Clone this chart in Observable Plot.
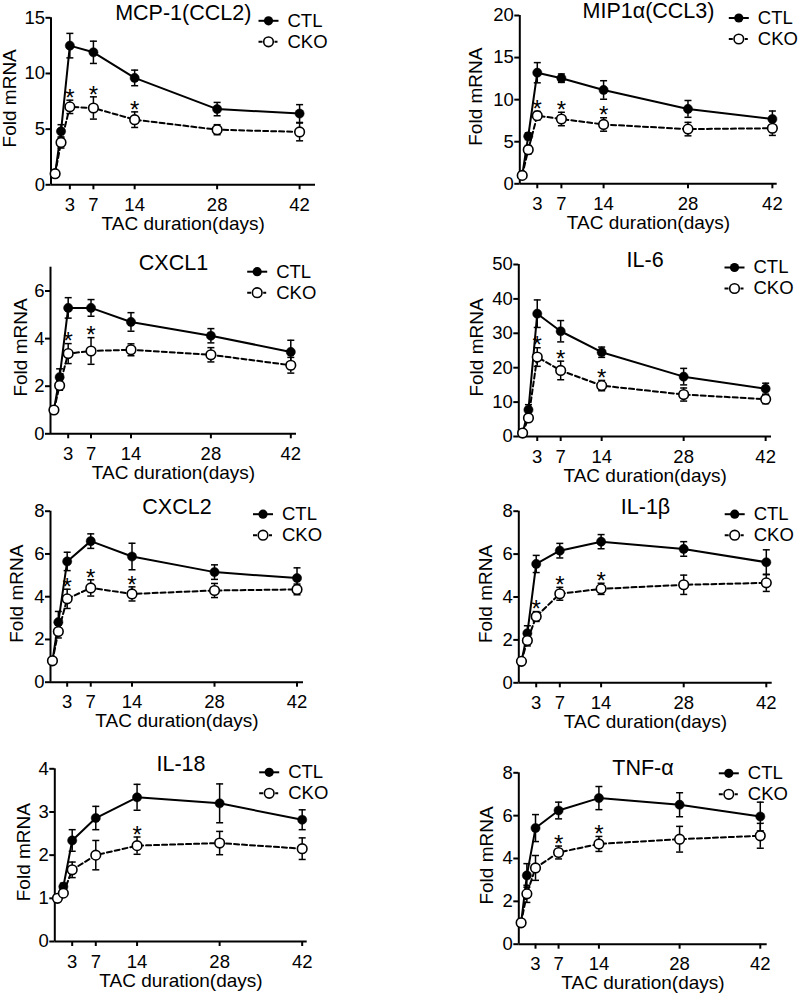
<!DOCTYPE html>
<html><head><meta charset="utf-8">
<script src="https://cdn.jsdelivr.net/npm/d3@7"></script>
<script src="https://cdn.jsdelivr.net/npm/@observablehq/plot@0.6"></script>
<style>
html,body{margin:0;padding:0;background:#fff;}
#chart{position:relative;width:800px;height:995px;overflow:hidden;font-family:"Liberation Sans",Arial,sans-serif;background:#fff;}
.panel{position:absolute;}
</style></head><body><div id="chart"></div>
<script>
// plotted time positions (baseline, day 1, then 3..42 days)
const timePoints = [0.5, 1.5, 3, 7, 14, 28, 42];
const xTicks = [3, 7, 14, 28, 42];
const genes = ["MCP-1(CCL2)", "MIP1\u03b1(CCL3)", "CXCL1", "IL-6", "CXCL2", "IL-1\u03b2", "IL-18", "TNF-\u03b1"];
const seriesNames = ["CTL", "CKO"];
const yMax = [15, 20, 7, 50, 8, 8, 4, 8];
const yTicks = [[0,5,10,15],[0,5,10,15,20],[0,2,4,6],[0,10,20,30,40,50],[0,2,4,6,8],[0,2,4,6,8],[0,1,2,3,4],[0,2,4,6,8]];

const ctlMean = [
  [1, 4.8, 12.5, 11.9, 9.6, 6.8, 6.4],
  [1, 5.65, 13.2, 12.55, 11.15, 8.9, 7.7],
  [1, 2.38, 5.29, 5.29, 4.7, 4.12, 3.44],
  [1, 7.75, 35.7, 30.6, 24.5, 17.4, 13.9],
  [1, 2.81, 5.65, 6.6, 5.88, 5.15, 4.87],
  [1, 2.31, 5.54, 6.16, 6.58, 6.24, 5.62],
  [1, 1.27, 2.34, 2.86, 3.34, 3.2, 2.82],
  [1, 3.21, 5.42, 6.24, 6.82, 6.51, 5.96]
];
const ctlSem = [
  [0.1, 0.6, 1.1, 1.0, 0.7, 0.6, 0.8],
  [0.1, 0.4, 1.2, 0.5, 1.1, 1.0, 0.95],
  [0.05, 0.35, 0.43, 0.35, 0.39, 0.3, 0.49],
  [0.3, 1.5, 4.0, 3.1, 1.5, 2.4, 1.6],
  [0.05, 0.5, 0.43, 0.34, 0.62, 0.34, 0.48],
  [0.05, 0.35, 0.4, 0.34, 0.33, 0.34, 0.58],
  [0.03, 0.08, 0.25, 0.27, 0.3, 0.45, 0.23],
  [0.05, 0.55, 0.63, 0.39, 0.54, 0.56, 0.67]
];
const ckoMean = [
  [1, 3.8, 7.0, 6.9, 5.85, 4.95, 4.75],
  [1, 4.05, 8.1, 7.7, 7.05, 6.5, 6.6],
  [1, 2.03, 3.37, 3.48, 3.53, 3.32, 2.88],
  [1, 5.4, 23.1, 19.2, 14.8, 12.2, 10.85],
  [1, 2.37, 3.9, 4.41, 4.13, 4.29, 4.34],
  [1, 1.97, 3.09, 4.15, 4.38, 4.57, 4.66],
  [1, 1.12, 1.66, 2.0, 2.22, 2.28, 2.15],
  [1, 2.35, 3.56, 4.28, 4.68, 4.9, 5.06]
];
const ckoSem = [
  [0.1, 0.5, 0.6, 1.0, 0.7, 0.45, 0.8],
  [0.1, 0.5, 0.5, 0.8, 0.8, 0.8, 0.85],
  [0.05, 0.2, 0.42, 0.56, 0.25, 0.3, 0.33],
  [0.3, 1.0, 2.7, 2.7, 1.5, 1.9, 1.3],
  [0.05, 0.3, 0.45, 0.38, 0.33, 0.33, 0.25],
  [0.05, 0.25, 0.23, 0.3, 0.26, 0.45, 0.4],
  [0.03, 0.06, 0.18, 0.34, 0.2, 0.27, 0.25],
  [0.05, 0.4, 0.58, 0.3, 0.35, 0.6, 0.58]
];
const starDays = [[3,7,14],[3,7,14],[3,7],[3,7,14],[3,7,14],[3,7,14],[14],[7,14]];

// layout (positions / margins) kept separate from the data
const layout = [
  {left:0,   top:0,   h:245, mt:17.3, mb:60.7, ml:50.5,  mr:85,   xd:[-0.2,44.7], legDx:-47,   legDy:[3,24],     ylab:-41},
  {left:400, top:0,   h:245, mt:15,   mb:61.7, ml:119.3, mr:23.3, xd:[0.1,42.8],  legDx:-38.4, legDy:[2.5,23.5], ylab:-44},
  {left:0,   top:245, h:245, mt:21.7, mb:56.7, ml:50,    mr:104,  xd:[-0.1,43],   legDx:-39.3, legDy:[4.5,25.5], ylab:-30},
  {left:400, top:245, h:245, mt:19,   mb:54,   ml:118.3, mr:29,   xd:[-0.15,43],  legDx:-37,   legDy:[3,24],     ylab:-41.6},
  {left:0,   top:490, h:245, mt:20.7, mb:53.3, ml:50,    mr:97,   xd:[0.17,43.1], legDx:-40.5, legDy:[3,24],     ylab:-33.3},
  {left:400, top:490, h:245, mt:20.7, mb:52.7, ml:118.3, mr:28.3, xd:[0.05,43],   legDx:-37.5, legDy:[3,24],     ylab:-33.3},
  {left:0,   top:745, h:250, mt:23.3, mb:54,   ml:54.3,  mr:93.3, xd:[0.05,42.85],legDx:-38,   legDy:[3.5,24.5], ylab:-30.8},
  {left:400, top:745, h:250, mt:27.3, mb:51.3, ml:118.3, mr:33.3, xd:[0.1,43.2],  legDx:-38.4, legDy:[0.5,21.5], ylab:-31.8}
];

const capSym = {draw(c){c.moveTo(-3.5,0);c.lineTo(3.5,0);}};
const legLine = {draw(c){c.moveTo(-10,0);c.lineTo(10,0);}};
const legDash = {draw(c){c.moveTo(-10,0);c.lineTo(-6,0);c.moveTo(6,0);c.lineTo(9,0);}};

const FONT = "'Liberation Sans', Arial, Helvetica, sans-serif";
const chart = document.getElementById("chart");
const intFmt = d3.format("d");
const TICK_FS = 18.5, LABEL_FS = 19, TITLE_FS = 21.5, LEG_FS = 18.5;

genes.forEach((gene, i) => {
  const L = layout[i];
  const ctl = timePoints.map((d, j) => ({day: d, v: ctlMean[i][j], e: ctlSem[i][j]}));
  const cko = timePoints.map((d, j) => ({day: d, v: ckoMean[i][j], e: ckoSem[i][j]}));
  const stars = starDays[i].map(d => {
    const j = timePoints.indexOf(d);
    return {day: d, top: ckoMean[i][j] + ckoSem[i][j]};
  });
  const errMarks = (data) => [
    Plot.ruleX(data, {x: "day", y1: d => d.v - d.e, y2: d => d.v + d.e, stroke: "black", strokeWidth: 1.5}),
    Plot.dot(data, {x: "day", y: d => d.v + d.e, symbol: capSym, fill: "none", stroke: "black", strokeWidth: 1.5}),
    Plot.dot(data, {x: "day", y: d => d.v - d.e, symbol: capSym, fill: "none", stroke: "black", strokeWidth: 1.5})
  ];
  const svg = Plot.plot({
    width: 400, height: L.h,
    marginTop: L.mt, marginBottom: L.mb, marginLeft: L.ml, marginRight: L.mr,
    x: {domain: L.xd},
    y: {domain: [0, yMax[i]]},
    style: {fontFamily: FONT, fontSize: TICK_FS + "px", color: "black", background: "white", overflow: "visible"},
    marks: [
      Plot.axisX({ticks: xTicks, tickFormat: intFmt, tickSize: 5, tickPadding: 8, strokeWidth: 2, label: null, fontSize: TICK_FS}),
      Plot.axisY({ticks: yTicks[i], tickFormat: intFmt, tickSize: 5, tickPadding: 1, strokeWidth: 2, label: null, fontSize: TICK_FS}),
      Plot.ruleY([0], {stroke: "black", strokeWidth: 2}),
      Plot.ruleX([L.xd[0]], {stroke: "black", strokeWidth: 2}),
      ...errMarks(ctl),
      ...errMarks(cko),
      Plot.line(ctl, {x: "day", y: "v", stroke: "black", strokeWidth: 2}),
      Plot.line(cko, {x: "day", y: "v", stroke: "black", strokeWidth: 2, strokeDasharray: "5,3"}),
      Plot.dot(ctl, {x: "day", y: "v", r: 4.6, fill: "black", stroke: "black", strokeWidth: 0.5}),
      Plot.dot(cko, {x: "day", y: "v", r: 4.8, fill: "white", stroke: "black", strokeWidth: 1.6}),
      Plot.text(stars, {x: "day", y: "top", text: () => "*", dy: -2, fontSize: 24}),
      Plot.text([gene], {text: d => d, frameAnchor: "top", lineAnchor: "middle", dy: -4.5, fontSize: TITLE_FS}),
      Plot.text(["TAC duration(days)"], {text: d => d, frameAnchor: "bottom", lineAnchor: "middle", dy: 39, fontSize: LABEL_FS}),
      Plot.text(["Fold mRNA"], {text: d => d, frameAnchor: "left", lineAnchor: "middle", textAnchor: "middle", rotate: -90, dx: L.ylab, dy: -3, fontSize: LABEL_FS}),
      // legend
      Plot.dot([seriesNames[0]], {frameAnchor: "top-right", dx: L.legDx, dy: L.legDy[0], symbol: legLine, fill: "none", stroke: "black", strokeWidth: 2}),
      Plot.dot([seriesNames[0]], {frameAnchor: "top-right", dx: L.legDx, dy: L.legDy[0], r: 4.6, fill: "black"}),
      Plot.text([seriesNames[0]], {text: d => d, frameAnchor: "top-right", lineAnchor: "middle", dx: L.legDx + 19, dy: L.legDy[0], textAnchor: "start", fontSize: LEG_FS}),
      Plot.dot([seriesNames[1]], {frameAnchor: "top-right", dx: L.legDx, dy: L.legDy[1], symbol: legDash, fill: "none", stroke: "black", strokeWidth: 2}),
      Plot.dot([seriesNames[1]], {frameAnchor: "top-right", dx: L.legDx, dy: L.legDy[1], r: 4.8, fill: "white", stroke: "black", strokeWidth: 1.6}),
      Plot.text([seriesNames[1]], {text: d => d, frameAnchor: "top-right", lineAnchor: "middle", dx: L.legDx + 19, dy: L.legDy[1], textAnchor: "start", fontSize: LEG_FS})
    ]
  });
  const div = document.createElement("div");
  div.className = "panel";
  div.style.left = L.left + "px";
  div.style.top = L.top + "px";
  div.appendChild(svg);
  chart.appendChild(div);
});
</script></body></html>
